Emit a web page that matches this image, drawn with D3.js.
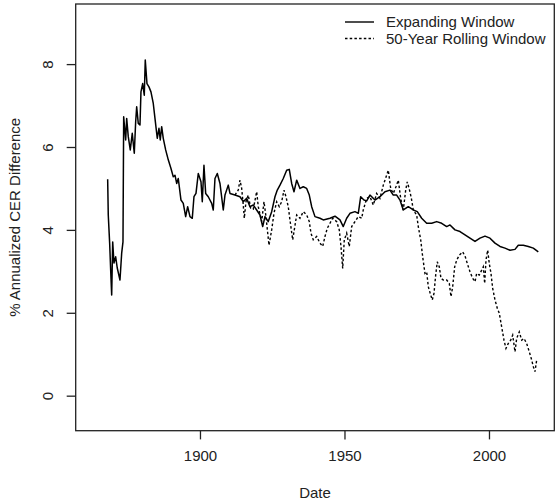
<!DOCTYPE html>
<html>
<head>
<meta charset="utf-8">
<script src="https://cdn.jsdelivr.net/npm/d3@7"></script>
<style>
  html, body { margin: 0; padding: 0; background: #fff; }
  svg { display: block; font-family: "Liberation Sans", Arial, sans-serif; }
</style>
</head>
<body>
<svg id="chart" width="556" height="501"></svg>
<script>
// Expanding-window estimate: year, % annualized CER difference
const expandingYears = [
  1868.06, 1868.27, 1868.75, 1869.10, 1869.45, 1869.80, 1870.24, 1870.83, 1871.38, 1872.32,
  1872.91, 1873.36, 1873.60, 1874.29, 1874.64, 1875.19, 1875.88, 1876.57, 1877.27, 1877.75,
  1878.10, 1878.65, 1879.24, 1879.58, 1880.17, 1880.73, 1881.07, 1881.66, 1882.35, 1883.04,
  1883.84, 1884.43, 1885.22, 1885.81, 1886.26, 1886.75, 1887.30, 1888.13, 1889.03, 1889.97,
  1890.76, 1891.35, 1891.94, 1892.49, 1893.43, 1894.22, 1895.05, 1895.74, 1896.54, 1897.34,
  1897.92, 1898.62, 1899.41, 1900.35, 1900.80, 1901.38, 1901.97, 1902.87, 1904.05, 1904.60,
  1905.19, 1905.99, 1906.92, 1908.06, 1908.65, 1909.79, 1910.38, 1912.11, 1913.84, 1914.98,
  1916.16, 1917.30, 1918.44, 1919.62, 1920.76, 1921.70, 1922.49, 1923.63, 1924.81, 1925.95,
  1926.75, 1927.68, 1928.82, 1930.00, 1930.90, 1931.73, 1932.53, 1933.46, 1934.60, 1935.74,
  1936.92, 1937.82, 1938.65, 1939.79, 1941.52, 1942.66, 1944.98, 1946.71, 1948.44, 1949.58,
  1950.76, 1951.90, 1953.63, 1954.78, 1955.61, 1956.75, 1957.68, 1958.82, 1960.55, 1962.28,
  1964.01, 1965.74, 1966.89, 1968.06, 1969.20, 1970.35, 1972.08, 1973.81, 1975.19, 1976.71,
  1978.44, 1980.17, 1981.90, 1983.63, 1985.36, 1986.51, 1988.24, 1989.97, 1991.70, 1993.43,
  1995.16, 1996.89, 1998.62, 2000.35, 2002.08, 2003.81, 2005.54, 2007.27, 2009.00, 2010.14,
  2011.87, 2013.60, 2015.33, 2017.06
];
const expandingValues = [
  5.22, 4.36, 3.68, 3.03, 2.43, 3.71, 3.20, 3.35, 3.08, 2.79,
  3.44, 3.71, 6.73, 6.17, 6.69, 6.25, 5.93, 6.33, 5.85, 6.61,
  6.97, 6.57, 6.53, 7.33, 7.53, 7.25, 8.10, 7.53, 7.45, 7.33,
  7.05, 6.69, 6.21, 6.45, 6.17, 6.49, 6.21, 5.93, 5.69, 5.48,
  5.28, 5.32, 5.12, 5.24, 4.72, 4.64, 4.32, 4.56, 4.32, 4.28,
  4.80, 4.88, 5.36, 5.16, 4.68, 5.56, 4.88, 4.80, 4.64, 4.48,
  5.24, 5.36, 5.12, 4.48, 4.84, 5.08, 4.88, 4.84, 4.80, 4.68,
  4.76, 4.56, 4.60, 4.48, 4.36, 4.08, 4.32, 4.20, 4.44, 4.80,
  4.96, 5.08, 5.24, 5.44, 5.46, 5.12, 4.92, 5.20, 5.00, 5.04,
  5.00, 4.84, 4.56, 4.32, 4.28, 4.24, 4.28, 4.33, 4.24, 4.08,
  4.28, 4.40, 4.44, 4.40, 4.80, 4.72, 4.70, 4.84, 4.72, 4.80,
  4.92, 4.96, 4.84, 4.84, 4.72, 4.48, 4.56, 4.48, 4.44, 4.28,
  4.16, 4.16, 4.20, 4.16, 4.08, 4.12, 4.00, 3.96, 3.88, 3.80,
  3.72, 3.80, 3.85, 3.80, 3.68, 3.60, 3.56, 3.51, 3.53, 3.63,
  3.63, 3.60, 3.56, 3.47
];

// 50-year rolling-window estimate (coincides with the expanding one before 1912)
const rollingYears = [
  1912.11, 1913.25, 1913.84, 1914.43, 1914.98, 1915.33, 1915.92, 1916.71, 1917.54, 1918.44,
  1919.62, 1920.17, 1921.35, 1922.15, 1922.84, 1923.88, 1924.81, 1925.61, 1926.54, 1927.44,
  1928.27, 1929.07, 1929.76, 1930.55, 1931.14, 1932.08, 1932.63, 1933.46, 1934.60, 1935.74,
  1936.92, 1937.82, 1938.41, 1939.20, 1940.38, 1941.52, 1942.46, 1943.25, 1944.05, 1944.98,
  1945.92, 1947.30, 1948.20, 1948.79, 1949.38, 1949.93, 1950.76, 1951.66, 1952.49, 1953.63,
  1954.78, 1955.95, 1956.50, 1957.68, 1958.82, 1959.97, 1961.14, 1962.28, 1963.43, 1964.60,
  1965.16, 1965.99, 1966.89, 1967.82, 1968.62, 1969.45, 1970.35, 1971.18, 1971.73, 1972.66,
  1973.25, 1973.81, 1974.98, 1975.54, 1976.37, 1977.06, 1977.85, 1978.44, 1979.00, 1979.83,
  1980.38, 1980.97, 1981.56, 1982.11, 1982.80, 1983.39, 1984.19, 1985.36, 1986.26, 1986.85,
  1987.44, 1988.13, 1988.82, 1989.72, 1990.90, 1991.80, 1992.49, 1993.43, 1994.36, 1995.16,
  1995.74, 1996.64, 1997.47, 1998.03, 1998.51, 1998.96, 1999.55, 2000.10, 2000.69, 2001.28,
  2002.08, 2002.87, 2003.56, 2004.39, 2005.19, 2005.88, 2006.68, 2007.51, 2008.20, 2009.00,
  2009.58, 2010.48, 2011.31, 2012.11, 2013.04, 2013.94, 2014.78, 2015.33, 2015.92, 2016.50
];
const rollingValues = [
  4.84, 4.96, 5.20, 5.00, 4.60, 4.28, 4.68, 4.84, 4.52, 4.50,
  4.92, 4.56, 4.20, 4.68, 4.32, 3.63, 4.00, 4.40, 4.68, 4.56,
  4.68, 4.96, 4.80, 4.56, 4.24, 3.76, 4.00, 4.36, 4.28, 4.44,
  4.36, 4.20, 3.92, 3.76, 3.84, 3.68, 3.60, 3.84, 4.04, 4.16,
  4.28, 4.20, 4.00, 3.60, 3.07, 3.76, 3.92, 3.60, 4.08, 4.20,
  4.32, 4.28, 4.48, 4.76, 4.80, 4.60, 4.88, 4.76, 5.08, 5.32,
  5.44, 5.00, 4.88, 5.04, 5.20, 4.76, 4.48, 4.96, 5.16, 4.92,
  4.72, 4.48, 4.36, 4.08, 3.76, 3.35, 2.95, 2.99, 2.63, 2.43,
  2.31, 2.47, 2.91, 3.23, 3.11, 2.83, 2.79, 2.79, 2.71, 2.39,
  2.63, 3.11, 3.27, 3.39, 3.47, 3.35, 3.19, 2.99, 2.83, 2.75,
  2.95, 2.91, 3.03, 3.11, 2.71, 3.27, 3.51, 3.19, 2.95, 2.59,
  2.31, 2.11, 1.99, 1.66, 1.34, 1.14, 1.26, 1.34, 1.46, 1.06,
  1.38, 1.54, 1.34, 1.38, 1.26, 1.06, 0.86, 0.70, 0.58, 0.86
];

const xTicks = [1900, 1950, 2000];
const yTicks = [0, 2, 4, 6, 8];
const seriesNames = ["Expanding Window", "50-Year Rolling Window"];
const xTitle = "Date";
const yTitle = "% Annualized CER Difference";

const svg = d3.select("#chart");
const plot = { left: 75.7, right: 554.3, top: 4, bottom: 430.7 };

const x = d3.scaleLinear().domain([1857.0, 2022.6]).range([plot.left, plot.right]);
const y = d3.scaleLinear().domain([-0.845, 9.45]).range([plot.bottom, plot.top]);

const ink = "#000";
const frame = "#222";
const fontSize = 15;

// Series paths
const line = d3.line().x(d => x(d[0])).y(d => y(d[1]));
const expanding = expandingYears.map((yr, i) => [yr, expandingValues[i]]);
const rolling = rollingYears.map((yr, i) => [yr, rollingValues[i]]);

svg.append("path")
  .datum(rolling)
  .attr("d", line)
  .attr("fill", "none")
  .attr("stroke", ink)
  .attr("stroke-width", 1.4)
  .attr("stroke-dasharray", "2.5,2.2");

svg.append("path")
  .datum(expanding)
  .attr("d", line)
  .attr("fill", "none")
  .attr("stroke", ink)
  .attr("stroke-width", 1.5)
  .attr("stroke-linejoin", "round");

// Plot frame
svg.append("rect")
  .attr("x", plot.left).attr("y", plot.top)
  .attr("width", plot.right - plot.left).attr("height", plot.bottom - plot.top)
  .attr("fill", "none").attr("stroke", frame).attr("stroke-width", 1.3);

// X axis: ticks below the frame
const xAxis = d3.axisBottom(x).tickValues(xTicks).tickFormat(d3.format("d"))
  .tickSize(8.7).tickPadding(11);
const gx = svg.append("g").attr("transform", `translate(0,${plot.bottom})`).call(xAxis);
gx.select(".domain").remove();
gx.selectAll(".tick line").attr("stroke", frame).attr("stroke-width", 1.3);
gx.selectAll(".tick text").attr("font-size", fontSize).attr("fill", "#222")
  .attr("font-family", "Liberation Sans, Arial, sans-serif");

// Y axis: labels rotated parallel to the axis
const yAxis = d3.axisLeft(y).tickValues(yTicks).tickFormat(d3.format("d")).tickSize(9);
const gy = svg.append("g").attr("transform", `translate(${plot.left},0)`).call(yAxis);
gy.select(".domain").remove();
gy.selectAll(".tick line").attr("stroke", frame).attr("stroke-width", 1.3);
gy.selectAll(".tick text").remove();
gy.selectAll(".tick").append("text")
  .attr("transform", "translate(-27.7,0) rotate(-90)")
  .attr("text-anchor", "middle")
  .attr("dy", "0.35em")
  .attr("font-size", fontSize)
  .attr("fill", "#222")
  .text(d => d);

// Axis titles
svg.append("text")
  .attr("x", (plot.left + plot.right) / 2).attr("y", 498)
  .attr("text-anchor", "middle").attr("font-size", fontSize).attr("fill", "#222")
  .text(xTitle);

svg.append("text")
  .attr("transform", `translate(20,${(plot.top + plot.bottom) / 2}) rotate(-90)`)
  .attr("text-anchor", "middle").attr("font-size", fontSize).attr("fill", "#222")
  .text(yTitle);

// Legend (no box)
const legend = svg.append("g");
const legendRows = [
  { name: seriesNames[0], dash: null, y: 22 },
  { name: seriesNames[1], dash: "2.5,2.2", y: 38.5 }
];
legendRows.forEach(r => {
  legend.append("line")
    .attr("x1", 345).attr("x2", 374).attr("y1", r.y).attr("y2", r.y)
    .attr("stroke", ink).attr("stroke-width", 1.4)
    .attr("stroke-dasharray", r.dash);
  legend.append("text")
    .attr("x", 386).attr("y", r.y).attr("dy", "0.35em")
    .attr("font-size", fontSize).attr("fill", "#222")
    .text(r.name);
});
</script>
</body>
</html>
